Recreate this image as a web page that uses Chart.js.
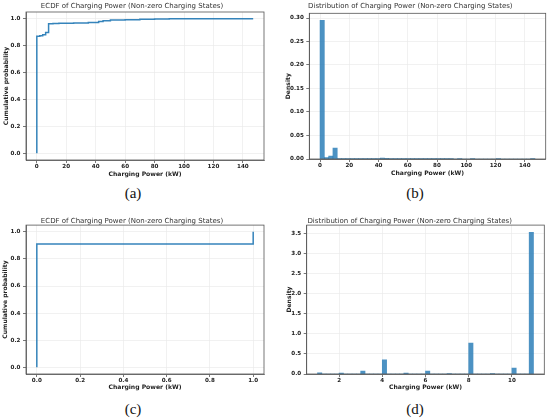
<!DOCTYPE html>
<html>
<head>
<meta charset="utf-8">
<script src="https://cdn.jsdelivr.net/npm/chart.js@4.4.1/dist/chart.umd.min.js"></script>
<style>
  html, body { margin: 0; padding: 0; background: #fff; }
  #page { position: relative; width: 550px; height: 418px; overflow: hidden; }
  .panel { position: absolute; width: 275px; height: 182px; }
  .panel canvas { display: block; }
  .cap { position: absolute; width: 60px; margin-left: -30px; text-align: center;
         font-family: 'Liberation Serif', 'DejaVu Serif', serif; font-size: 15px; line-height: 16px; color: #111; }
</style>
</head>
<body>
<div id="page">
  <div class="panel" style="left:0;top:0"><canvas id="ecdfA" width="275" height="182"></canvas></div>
  <div class="panel" style="left:275px;top:0"><canvas id="histB" width="275" height="182"></canvas></div>
  <div class="panel" style="left:0;top:210px"><canvas id="ecdfC" width="275" height="182"></canvas></div>
  <div class="panel" style="left:275px;top:210px"><canvas id="histD" width="275" height="182"></canvas></div>
  <div class="cap" style="left:133px;top:185px">(a)</div>
  <div class="cap" style="left:415px;top:185px">(b)</div>
  <div class="cap" style="left:133px;top:401px">(c)</div>
  <div class="cap" style="left:415px;top:401px">(d)</div>
</div>

<script>
// ---- data ----
const TITLE_ECDF = 'ECDF of Charging Power (Non-zero Charging States)';
const TITLE_HIST = 'Distribution of Charging Power (Non-zero Charging States)';
const X_LABEL = 'Charging Power (kW)';

// (a) ECDF, all stations (step points)
const ecdfAPower = [0, 0, 2, 4, 6, 8, 11, 15, 25, 35, 42, 45, 50, 60, 70, 80, 90, 100, 147];
const ecdfAProb  = [0, 0.866, 0.870, 0.874, 0.880, 0.897, 0.962, 0.964, 0.966, 0.968, 0.972, 0.980, 0.985, 0.990, 0.993, 0.996, 0.998, 1.0, 1.0];

// (b) histogram, 50 bins over 0..147 kW
const histBStart = 0;
const histBWidth = 2.94;
const histBDensity = [
  0.295, 0.003, 0.006, 0.023, 0.0003, 0.0002, 0.0002, 0.0004, 0.0002, 0.0002,
  0.0003, 0.0002, 0.0002, 0.0003, 0.0022, 0.0012, 0.0006, 0.0005, 0.0004, 0.0005,
  0.0006, 0.0003, 0.0002, 0.0003, 0.0002, 0.0003, 0.0004, 0.0003, 0.0002, 0.0003,
  0.0001, 0, 0.0001, 0, 0, 0.0001, 0, 0, 0, 0,
  0, 0.0001, 0, 0, 0, 0, 0, 0, 0, 0.0001
];

// (c) ECDF, second case
const ecdfCPower = [0, 0, 1, 1];
const ecdfCProb  = [0, 0.91, 0.91, 1.0];

// (d) histogram, 50 bins over 1..11 kW
const histDStart = 1;
const histDWidth = 0.2;
const histDDensity = [
  0.03, 0, 0, 0, 0, 0.02, 0, 0, 0, 0,
  0.07, 0, 0, 0, 0, 0.35, 0, 0, 0, 0,
  0.02, 0, 0, 0, 0, 0.07, 0, 0, 0, 0,
  0.01, 0, 0, 0, 0, 0.77, 0, 0, 0, 0,
  0.01, 0, 0, 0, 0, 0.15, 0, 0, 0, 3.53
];

// ---- styling ----
const BLUE_LINE = 'rgba(31,119,180,0.9)';
const BLUE_BAR  = 'rgba(31,119,180,0.8)';
const GRID = '#e8e8e8';
const SPINE = '#555';
const TICK_FONT = { family: 'DejaVu Sans', size: 5.6, weight: 'bold' };
const LABEL_FONT = { family: 'DejaVu Sans', size: 6.1, weight: 'bold' };

// draws the top/right spines so the axes get a full box
const framePlugin = {
  id: 'frame',
  afterDraw(chart) {
    const a = chart.chartArea, ctx = chart.ctx;
    ctx.save();
    ctx.strokeStyle = SPINE;
    ctx.lineWidth = 0.8;
    ctx.strokeRect(a.left, a.top, a.right - a.left, a.bottom - a.top);
    ctx.restore();
  }
};

function xyPoints(xs, ys) {
  return xs.map((x, i) => ({ x: x, y: ys[i] }));
}

function binPoints(start, width, dens) {
  return dens.map((d, i) => ({ x: start + (i + 0.5) * width, y: d }));
}

function xScale(p) {
  return {
    type: 'linear', min: p.min, max: p.max, offset: false,
    afterFit: s => { s.height = p.height; },
    ticks: { stepSize: p.step, includeBounds: false, autoSkip: false, maxRotation: 0, padding: p.tickPad,
             color: '#222', font: TICK_FONT, callback: p.fmt },
    grid: { color: GRID, lineWidth: 0.6, offset: false, tickLength: 3, tickColor: SPINE, tickWidth: 0.8 },
    border: { color: SPINE, width: 0.8 },
    title: { display: true, text: X_LABEL, color: '#222', font: LABEL_FONT, padding: { top: 0, bottom: p.titlePad } }
  };
}

function yScale(p) {
  return {
    type: 'linear', min: p.min, max: p.max,
    afterFit: s => { s.width = p.width; },
    ticks: { stepSize: p.step, includeBounds: false, autoSkip: false, padding: 2.5,
             color: '#222', font: TICK_FONT, callback: p.fmt },
    grid: { color: GRID, lineWidth: 0.6, tickLength: 3, tickColor: SPINE, tickWidth: 0.8 },
    border: { color: SPINE, width: 0.8 },
    title: { display: true, text: p.label, color: '#222', font: LABEL_FONT, padding: { top: p.titlePad, bottom: 0 } }
  };
}

function titleOpts(text, top, bottom) {
  return {
    display: true, text: text, color: '#333',
    font: { family: 'DejaVu Sans', size: 7, weight: 'normal', lineHeight: 1.2 },
    padding: { top: top, bottom: bottom }
  };
}

// ── ECDF (a) ──
function initEcdfA() {
  new Chart(document.getElementById('ecdfA'), {
    type: 'scatter',
    data: { datasets: [{
      data: xyPoints(ecdfAPower, ecdfAProb),
      showLine: true, stepped: 'after',
      borderColor: BLUE_LINE, borderWidth: 1.5, pointRadius: 0
    }] },
    options: {
      responsive: false, animation: false,
      layout: { padding: { left: 0, right: 11, top: 0, bottom: 0 } },
      plugins: { legend: { display: false }, tooltip: { enabled: false }, title: titleOpts(TITLE_ECDF, 1.8, 1.8) },
      scales: {
        x: xScale({ min: -7.35, max: 154.35, step: 20, height: 22, tickPad: 0.2, titlePad: 4.3, fmt: v => String(v) }),
        y: yScale({ min: -0.05, max: 1.05, step: 0.2, width: 26, titlePad: 2.3, label: 'Cumulative probability', fmt: v => v.toFixed(1) })
      }
    },
    plugins: [framePlugin]
  });
}

// ── HISTOGRAM (b) ──
function initHistB() {
  new Chart(document.getElementById('histB'), {
    type: 'bar',
    data: { datasets: [{
      data: binPoints(histBStart, histBWidth, histBDensity),
      backgroundColor: BLUE_BAR, borderWidth: 0,
      categoryPercentage: 1, barPercentage: 1
    }] },
    options: {
      responsive: false, animation: false,
      layout: { padding: { left: 0, right: 4.3, top: 0, bottom: 0 } },
      plugins: { legend: { display: false }, tooltip: { enabled: false }, title: titleOpts(TITLE_HIST, 1.8, 3.1) },
      scales: {
        x: xScale({ min: -7.35, max: 154.35, step: 20, height: 23, tickPad: 0.2, titlePad: 5.2, fmt: v => String(v) }),
        y: yScale({ min: 0, max: 0.31, step: 0.05, width: 34.3, titlePad: 9.7, label: 'Density', fmt: v => v.toFixed(2) })
      }
    },
    plugins: [framePlugin]
  });
}

// ── ECDF (c) ──
function initEcdfC() {
  new Chart(document.getElementById('ecdfC'), {
    type: 'scatter',
    data: { datasets: [{
      data: xyPoints(ecdfCPower, ecdfCProb),
      showLine: true,
      borderColor: BLUE_LINE, borderWidth: 1.5, pointRadius: 0
    }] },
    options: {
      responsive: false, animation: false,
      layout: { padding: { left: 0, right: 11, top: 0, bottom: 0 } },
      plugins: { legend: { display: false }, tooltip: { enabled: false }, title: titleOpts(TITLE_ECDF, 6.5, 0.2) },
      scales: {
        x: xScale({ min: -0.05, max: 1.05, step: 0.2, height: 18, tickPad: 0.2, titlePad: 0.6, fmt: v => v.toFixed(1) }),
        y: yScale({ min: -0.05, max: 1.05, step: 0.2, width: 26, titlePad: 1.8, label: 'Cumulative probability', fmt: v => v.toFixed(1) })
      }
    },
    plugins: [framePlugin]
  });
}

// ── HISTOGRAM (d) ──
function initHistD() {
  new Chart(document.getElementById('histD'), {
    type: 'bar',
    data: { datasets: [{
      data: binPoints(histDStart, histDWidth, histDDensity),
      backgroundColor: BLUE_BAR, borderWidth: 0,
      categoryPercentage: 1, barPercentage: 1
    }] },
    options: {
      responsive: false, animation: false,
      layout: { padding: { left: 0, right: 5.7, top: 0, bottom: 0 } },
      plugins: { legend: { display: false }, tooltip: { enabled: false }, title: titleOpts(TITLE_HIST, 6.5, 0.2) },
      scales: {
        x: xScale({ min: 0.5, max: 11.5, step: 2, height: 18, tickPad: 0.2, titlePad: 0.6, fmt: v => String(v) }),
        y: yScale({ min: 0, max: 3.71, step: 0.5, width: 31.7, titlePad: 10.3, label: 'Density', fmt: v => v.toFixed(1) })
      }
    },
    plugins: [framePlugin]
  });
}

initEcdfA();
initHistB();
initEcdfC();
initHistD();
</script>
</body>
</html>
